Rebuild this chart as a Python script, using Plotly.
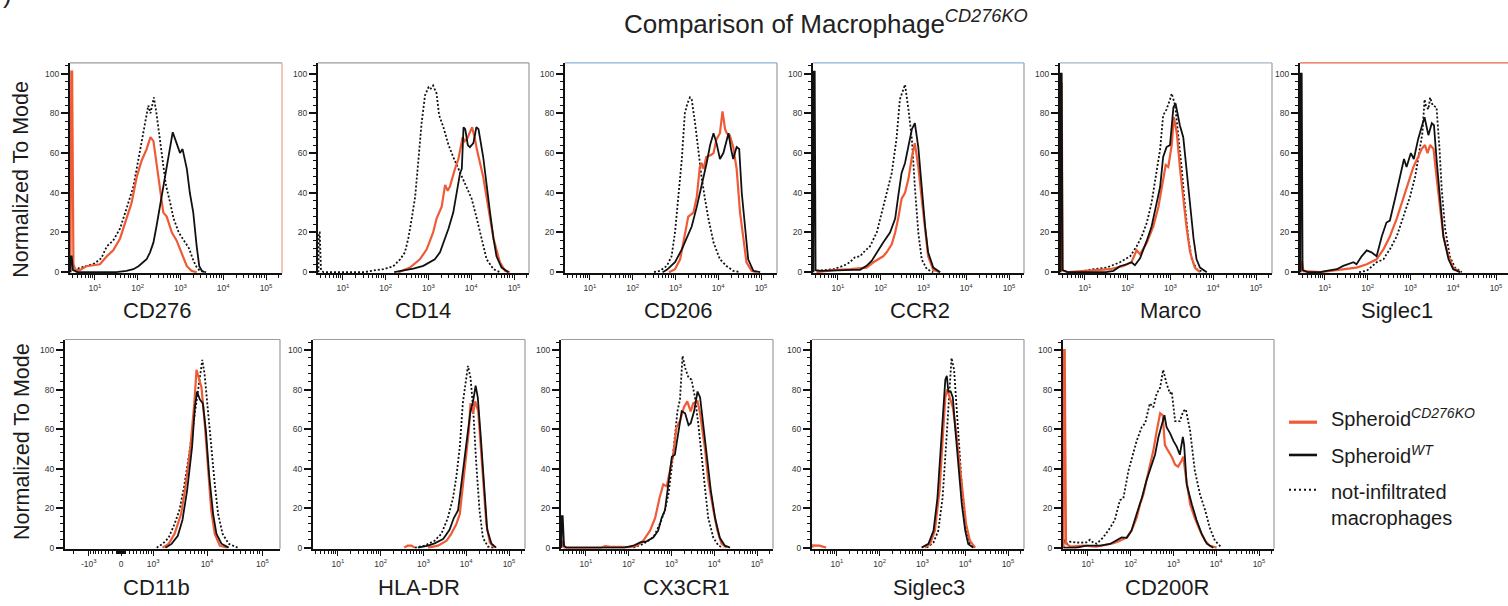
import math
import plotly.graph_objects as go

W, H = 1508, 606

# ---------------------------------------------------------------------------
# Histogram data: (decade position = log10 of fluorescence intensity, % of mode)
# ko = Spheroid CD276KO, wt = Spheroid WT, ni = not-infiltrated macrophages
# A None value breaks the line (no events in that stretch).
# ---------------------------------------------------------------------------
cd276_ni = [(0.55, 0), (0.62, 2), (0.8, 3), (1.0, 4.5), (1.15, 7), (1.28, 13), (1.43, 16), (1.59, 22),
            (1.74, 32), (1.90, 43), (2.02, 57), (2.13, 70), (2.25, 84), (2.30, 80), (2.38, 88), (2.44, 80),
            (2.50, 70), (2.58, 55), (2.66, 44), (2.76, 35), (2.84, 27), (2.96, 20), (3.07, 16), (3.20, 12),
            (3.30, 6), (3.38, 2.5), (3.46, 0.6), (3.6, 0)]
cd276_ko = [(0.43, 0), (0.45, 101), (0.47, 101), (0.50, 4), (0.55, 1), (0.65, 1), (0.8, 3), (1.0, 3.5),
            (1.12, 4), (1.28, 8), (1.43, 11), (1.59, 17), (1.74, 27), (1.86, 35), (1.98, 48), (2.09, 56),
            (2.21, 62), (2.30, 68), (2.37, 66), (2.44, 55), (2.52, 42), (2.60, 30), (2.68, 28), (2.80, 20),
            (2.91, 16), (3.03, 9), (3.15, 3), (3.26, 0.7), (3.38, 0)]
cd276_wt = [(0.43, 0), (0.44, 8), (0.46, 8), (0.49, 1), (0.6, 0), (1.5, 0), (1.74, 0.7), (1.90, 1.5),
            (2.02, 3), (2.13, 5), (2.21, 6.5), (2.29, 10), (2.37, 15), (2.44, 23), (2.52, 33), (2.60, 43),
            (2.68, 53), (2.76, 65), (2.82, 70.5), (2.91, 65), (2.99, 60), (3.05, 62), (3.15, 52), (3.22, 40),
            (3.30, 30), (3.38, 13), (3.44, 3), (3.50, 0.7), (3.57, 0)]

cd14_ni = [(0.43, 0), (0.44, 20), (0.46, 20), (0.49, 1), (0.55, 0), (1.5, 0), (1.7, 0.8), (1.95, 1.5),
           (2.18, 3), (2.34, 6.5), (2.45, 10), (2.53, 17), (2.61, 27), (2.69, 38), (2.76, 55), (2.84, 75),
           (2.92, 89), (3.0, 93), (3.04, 92), (3.11, 94), (3.19, 90), (3.25, 79), (3.35, 73), (3.47, 64),
           (3.58, 58), (3.74, 50), (3.89, 43), (4.01, 37), (4.13, 27), (4.24, 17), (4.36, 6.5), (4.52, 1.5),
           (4.67, 0)]
cd14_ko = [(2.3, 0), (2.57, 2.3), (2.80, 6.5), (2.96, 11.5), (3.11, 20), (3.19, 27), (3.31, 33), (3.39, 44),
           (3.45, 41), (3.50, 43), (3.62, 52), (3.70, 57), (3.80, 68), (3.85, 66), (3.90, 67), (3.97, 71),
           (4.02, 73), (4.08, 68), (4.13, 62), (4.28, 48), (4.40, 33), (4.52, 17), (4.67, 5), (4.79, 0.7),
           (4.9, 0)]
cd14_wt = [(2.2, 0), (2.65, 1.8), (2.88, 3.2), (3.04, 5), (3.15, 6.5), (3.27, 10), (3.39, 17), (3.47, 22),
           (3.58, 30), (3.66, 40), (3.74, 50), (3.78, 52), (3.82, 73), (3.86, 72), (3.92, 64), (3.97, 63),
           (4.05, 65), (4.12, 73), (4.17, 72), (4.28, 58), (4.36, 43), (4.44, 30), (4.52, 17), (4.59, 8),
           (4.71, 2.3), (4.87, 0)]

cd206_ni = [(2.5, 0), (2.64, 0.7), (2.80, 3.2), (2.91, 8), (2.99, 20), (3.07, 37), (3.15, 57), (3.22, 80),
            (3.28, 85), (3.34, 88), (3.38, 87), (3.46, 75), (3.54, 60), (3.61, 48), (3.69, 37), (3.77, 27),
            (3.89, 15), (4.04, 6.5), (4.20, 3), (4.35, 0.7), (4.51, 0)]
cd206_ko = [(2.85, 0), (2.99, 1.5), (3.11, 6.5), (3.22, 20), (3.30, 28), (3.42, 30), (3.50, 38), (3.57, 53),
            (3.61, 55), (3.66, 52), (3.72, 58), (3.83, 59), (3.89, 60), (3.96, 67), (4.04, 70), (4.10, 81),
            (4.16, 72), (4.20, 70), (4.27, 69), (4.35, 63), (4.43, 52), (4.51, 30), (4.59, 15), (4.66, 5),
            (4.78, 0.7), (4.90, 0)]
cd206_wt = [(2.7, 0), (2.80, 1.2), (2.99, 5), (3.15, 11.5), (3.26, 17), (3.38, 23), (3.50, 33), (3.61, 43),
            (3.73, 55), (3.81, 64), (3.89, 70), (3.96, 65), (4.04, 57), (4.12, 60), (4.24, 70), (4.30, 62),
            (4.35, 57), (4.43, 63), (4.49, 62), (4.55, 40), (4.63, 20), (4.70, 6.5), (4.82, 0.7), (4.98, 0)]

ccr2_ni = [(0.51, 0.7), (0.9, 1.5), (1.13, 3.2), (1.28, 5), (1.40, 7.5), (1.52, 8), (1.60, 10), (1.75, 13),
           (1.91, 20), (2.06, 33), (2.14, 40), (2.26, 50), (2.37, 67), (2.45, 87), (2.53, 92), (2.57, 94.5),
           (2.65, 82), (2.73, 67), (2.80, 43), (2.88, 20), (2.96, 6.5), (3.08, 1.5), (3.23, 0)]
ccr2_ko = [(0.5, 0), (0.9, 1), (1.3, 1.5), (1.67, 2.3), (1.83, 5), (1.95, 6.5), (2.06, 8), (2.14, 10),
           (2.26, 14), (2.34, 20), (2.41, 27), (2.49, 37), (2.57, 40), (2.65, 47), (2.73, 58), (2.80, 65),
           (2.88, 53), (2.96, 37), (3.04, 20), (3.11, 8), (3.23, 1.2), (3.39, 0)]
ccr2_wt = [(0.43, 0), (0.44, 101), (0.46, 101), (0.48, 1), (0.6, 0.7), (0.9, 1), (1.36, 1.2), (1.52, 1.2),
           (1.67, 3.2), (1.79, 5.7), (1.91, 10), (2.06, 15), (2.22, 20), (2.34, 27), (2.41, 38), (2.49, 50),
           (2.57, 55), (2.65, 63), (2.73, 72), (2.80, 75), (2.88, 63), (2.96, 43), (3.04, 23), (3.11, 10),
           (3.23, 2.3), (3.39, 0)]

marco_ni = [(0.81, 0), (1.20, 1.5), (1.51, 2.3), (1.82, 5), (2.06, 8), (2.21, 13), (2.33, 18), (2.45, 25),
            (2.56, 35), (2.68, 50), (2.76, 62), (2.83, 79), (2.91, 82), (2.99, 87), (3.03, 90), (3.11, 84),
            (3.18, 70), (3.26, 53), (3.34, 33), (3.42, 17), (3.50, 6.5), (3.61, 1.5), (3.77, 0)]
marco_ko = [(0.43, 0), (0.44, 95), (0.46, 95), (0.48, 1), (0.6, 0), (1.20, 0.7), (1.59, 1.5), (1.90, 3.2),
            (2.09, 5), (2.21, 11), (2.29, 9), (2.45, 15), (2.60, 23), (2.72, 33), (2.83, 47), (2.89, 54),
            (2.95, 53), (3.03, 64), (3.08, 78), (3.15, 70), (3.22, 53), (3.30, 37), (3.38, 22), (3.46, 10),
            (3.57, 2.3), (3.69, 0)]
marco_wt = [(0.43, 0), (0.44, 100), (0.46, 100), (0.48, 1), (0.6, 0), (1.5, 0), (1.67, 0.7), (1.82, 3),
            (1.98, 4), (2.09, 5), (2.17, 3.5), (2.29, 7), (2.45, 16), (2.56, 23), (2.68, 35), (2.76, 43),
            (2.83, 58), (2.91, 63), (2.99, 64), (3.07, 83), (3.12, 85), (3.18, 78), (3.22, 74), (3.30, 68),
            (3.38, 50), (3.46, 33), (3.54, 17), (3.61, 6.5), (3.69, 2.3), (3.85, 0)]

siglec1_ni = [(1.8, 0), (1.98, 0.7), (2.21, 5), (2.37, 6.5), (2.44, 9), (2.52, 11.5), (2.68, 18), (2.83, 28),
              (2.99, 38), (3.11, 48), (3.22, 62), (3.28, 70), (3.33, 87), (3.36, 84), (3.42, 82), (3.46, 88),
              (3.52, 84), (3.61, 83), (3.68, 62), (3.73, 42), (3.81, 22), (3.92, 8), (4.04, 2.3), (4.20, 0)]
siglec1_ko = [(0.43, 0), (0.44, 5), (0.47, 5), (0.5, 0.5), (0.9, 0), (1.20, 0.7), (1.51, 1.5), (1.74, 2.3),
              (1.98, 4), (2.21, 6.5), (2.37, 11.5), (2.52, 18), (2.68, 27), (2.83, 37), (2.95, 45), (3.07, 53),
              (3.18, 58), (3.26, 62), (3.34, 64), (3.40, 60), (3.46, 64), (3.54, 62), (3.61, 48), (3.69, 32),
              (3.77, 18), (3.89, 8), (4.00, 2.3), (4.16, 0)]
siglec1_wt = [(0.43, 0), (0.44, 100), (0.46, 100), (0.48, 1), (0.6, 0), (0.9, 0), (1.04, 0.7), (1.28, 1.5),
              (1.43, 3.2), (1.67, 5), (1.74, 4), (1.86, 8), (1.98, 11), (2.09, 10), (2.21, 8), (2.33, 18),
              (2.44, 25), (2.52, 26), (2.64, 37), (2.76, 48), (2.85, 57), (2.91, 53), (3.01, 60), (3.08, 57),
              (3.18, 67), (3.26, 73), (3.33, 78), (3.38, 73), (3.42, 69), (3.50, 75), (3.55, 74), (3.61, 57),
              (3.69, 38), (3.77, 18), (3.89, 6.5), (4.00, 1.5), (4.16, 0)]

cd11b_ni = [(3.07, 0), (3.185, 1.9), (3.30, 5), (3.41, 12), (3.50, 19), (3.585, 31), (3.67, 46), (3.76, 64),
            (3.84, 79), (3.88, 86), (3.915, 95), (3.955, 88), (4.01, 71), (4.075, 51), (4.14, 32), (4.20, 17),
            (4.28, 7), (4.39, 2), (4.55, 0)]
cd11b_ko = [(3.185, 0), (3.30, 1.9), (3.41, 7), (3.53, 17), (3.61, 31), (3.70, 51), (3.77, 73), (3.81, 90),
            (3.85, 86), (3.90, 81), (3.955, 64), (4.01, 42), (4.075, 19), (4.14, 7), (4.23, 1), (4.36, 0)]
cd11b_wt = [(3.24, 0), (3.355, 1.9), (3.47, 6), (3.555, 14), (3.64, 29), (3.73, 51), (3.78, 71), (3.82, 79),
            (3.87, 75), (3.925, 73), (3.98, 59), (4.04, 36), (4.11, 17), (4.17, 7), (4.26, 2), (4.39, 0)]

hladr_ni = [(2.80, 0), (3.03, 1), (3.26, 3.5), (3.42, 7), (3.57, 15), (3.69, 25), (3.77, 36), (3.85, 51),
            (3.92, 73), (3.99, 86), (4.04, 92), (4.10, 86), (4.16, 71), (4.23, 44), (4.31, 19), (4.39, 5),
            (4.51, 0.5), (4.63, 0)]
hladr_ko = [(2.55, 0), (2.63, 1), (2.72, 1), (2.8, 0), (2.9, None), (3.11, 0), (3.34, 1), (3.54, 3.5),
            (3.65, 7), (3.77, 12), (3.85, 17), (3.92, 31), (4.00, 46), (4.06, 59), (4.10, 73), (4.16, 68),
            (4.21, 74), (4.28, 69), (4.34, 51), (4.39, 34), (4.47, 12), (4.55, 2.7), (4.66, 0)]
hladr_wt = [(2.87, 0), (3.11, 1), (3.26, 2.2), (3.46, 4.4), (3.61, 9), (3.71, 15), (3.81, 19), (3.89, 32),
            (3.96, 46), (4.04, 59), (4.10, 69), (4.16, 74), (4.22, 82), (4.27, 76), (4.34, 56), (4.42, 29),
            (4.49, 9), (4.59, 2), (4.70, 0)]

cx3cr1_ni = [(2.11, 0), (2.34, 1.9), (2.58, 5.2), (2.73, 12), (2.85, 19), (2.93, 27), (3.01, 41), (3.08, 56),
             (3.14, 69), (3.20, 75), (3.26, 97), (3.32, 91), (3.40, 86), (3.47, 85), (3.55, 76), (3.63, 62),
             (3.71, 47), (3.79, 29), (3.86, 15), (3.98, 5), (4.10, 1), (4.21, 0)]
cx3cr1_ko = [(0.43, 0), (0.44, 3), (0.47, 3), (0.5, 0), (1.35, 0), (1.45, 0.8), (1.55, 0.5), (1.8, 0.5),
             (2.03, 0.3), (2.19, 1), (2.34, 3.5), (2.50, 8.6), (2.62, 15), (2.72, 25), (2.81, 32), (2.89, 31),
             (2.97, 39), (3.04, 47), (3.12, 61), (3.20, 64), (3.29, 71), (3.37, 74), (3.45, 69), (3.51, 73),
             (3.61, 74), (3.67, 68), (3.79, 49), (3.86, 34), (3.98, 19), (4.07, 9), (4.17, 2), (4.29, 0)]
cx3cr1_wt = [(0.43, 0), (0.44, 16), (0.46, 16), (0.49, 1), (0.55, 0), (1.9, 0), (2.11, 1), (2.27, 2.7),
             (2.42, 3.2), (2.58, 5.2), (2.69, 8.6), (2.77, 15), (2.85, 19), (2.93, 32), (3.01, 46), (3.08, 47),
             (3.16, 59), (3.24, 69), (3.32, 68), (3.40, 62), (3.45, 63), (3.53, 69), (3.61, 79), (3.67, 76),
             (3.75, 61), (3.84, 44), (3.92, 29), (4.02, 15), (4.13, 5), (4.25, 1), (4.37, 0)]

siglec3_ni = [(3.10, 0), (3.26, 2.7), (3.37, 8.6), (3.47, 25), (3.55, 51), (3.605, 73), (3.645, 85), (3.68, 96),
              (3.74, 90), (3.80, 71), (3.86, 51), (3.94, 25), (4.02, 8.6), (4.11, 2), (4.23, 0)]
siglec3_ko = [(0.43, 0), (0.44, 1.2), (0.6, 1), (0.75, 0), (1.0, None), (3.06, 0), (3.18, 1.9), (3.29, 8.6),
              (3.40, 29), (3.47, 54), (3.535, 76), (3.58, 80), (3.645, 76), (3.71, 71), (3.785, 59), (3.86, 44),
              (3.94, 27), (4.02, 12), (4.11, 3.5), (4.23, 0)]
siglec3_wt = [(2.98, 0), (3.14, 1.9), (3.26, 8.6), (3.35, 25), (3.43, 51), (3.49, 71), (3.535, 85), (3.57, 87),
              (3.605, 79), (3.66, 79), (3.71, 76), (3.76, 62), (3.84, 42), (3.92, 22), (4.00, 8.6), (4.07, 1.9),
              (4.19, 0)]

cd200r_ni = [(0.43, 0), (0.44, 4), (0.5, 2), (0.58, 3), (0.8, 2.5), (0.97, 2.7), (1.05, 4), (1.13, 2.5),
             (1.21, 2), (1.36, 5.2), (1.52, 10), (1.63, 14), (1.75, 24), (1.83, 25), (1.95, 39), (2.06, 47),
             (2.14, 54), (2.26, 61), (2.34, 63), (2.45, 73), (2.53, 71), (2.61, 78), (2.69, 81), (2.76, 90),
             (2.84, 83), (2.92, 78), (2.96, 79), (3.04, 64), (3.15, 64), (3.23, 69), (3.29, 70), (3.39, 59),
             (3.50, 39), (3.62, 27), (3.74, 19), (3.85, 10), (3.97, 3.5), (4.13, 0)]
cd200r_ko = [(0.43, 0), (0.44, 100), (0.46, 100), (0.49, 2), (0.6, 0.5), (0.9, 1), (1.2, 0.5), (1.44, 1.5),
             (1.60, 2.2), (1.75, 3.5), (1.91, 5.2), (2.02, 8.6), (2.14, 15), (2.22, 22), (2.30, 27), (2.37, 34),
             (2.45, 41), (2.53, 49), (2.61, 59), (2.69, 68), (2.75, 67), (2.80, 52), (2.85, 50), (2.88, 49),
             (2.96, 46), (3.04, 42), (3.11, 41), (3.19, 44), (3.23, 46), (3.29, 36), (3.39, 22), (3.50, 15),
             (3.62, 8.6), (3.74, 3.5), (3.85, 1), (4.01, 0)]
cd200r_wt = [(0.43, 0), (0.74, 0), (0.97, 1), (1.3, 1), (1.52, 1.9), (1.67, 3.5), (1.79, 5.2), (1.91, 5),
             (2.02, 8.6), (2.14, 17), (2.26, 25), (2.37, 34), (2.49, 42), (2.57, 47), (2.65, 56), (2.73, 63),
             (2.79, 67), (2.84, 61), (2.92, 58), (3.00, 54), (3.08, 51), (3.15, 47), (3.22, 56), (3.25, 52),
             (3.31, 32), (3.43, 22), (3.54, 14), (3.66, 7), (3.78, 2), (3.93, 0)]

marker_names = ["CD276", "CD14", "CD206", "CCR2", "Marco", "Siglec1",
                "CD11b", "HLA-DR", "CX3CR1", "Siglec3", "CD200R"]
ko_curves = [cd276_ko, cd14_ko, cd206_ko, ccr2_ko, marco_ko, siglec1_ko,
             cd11b_ko, hladr_ko, cx3cr1_ko, siglec3_ko, cd200r_ko]
wt_curves = [cd276_wt, cd14_wt, cd206_wt, ccr2_wt, marco_wt, siglec1_wt,
             cd11b_wt, hladr_wt, cx3cr1_wt, siglec3_wt, cd200r_wt]
ni_curves = [cd276_ni, cd14_ni, cd206_ni, ccr2_ni, marco_ni, siglec1_ni,
             cd11b_ni, hladr_ni, cx3cr1_ni, siglec3_ni, cd200r_ni]

y_ticks = [0, 20, 40, 60, 80, 100]
log_tick_vals = [10, 100, 1000, 10000, 100000]
log_tick_text = ["10<sup>1</sup>", "10<sup>2</sup>", "10<sup>3</sup>", "10<sup>4</sup>", "10<sup>5</sup>"]
biex_tick_vals = [-1000, 0, 1000, 10000, 100000]
biex_tick_text = ["-10<sup>3</sup>", "0", "10<sup>3</sup>", "10<sup>4</sup>", "10<sup>5</sup>"]

legend_labels = ["Spheroid<sup><i>CD276KO</i></sup>", "Spheroid<sup><i>WT</i></sup>",
                 "not-infiltrated<br>macrophages"]

# ---------------------------------------------------------------------------
# Layout geometry (pixels) and styles
# ---------------------------------------------------------------------------
panel_left = [70, 318, 565, 813, 1060, 1300, 65, 313, 561, 812, 1063]
panel_right = [282, 529, 777, 1024, 1272, 1508, 280, 525, 773, 1024, 1274]
panel_row = [0, 0, 0, 0, 0, 0, 1, 1, 1, 1, 1]
row_top = [63.3, 341.8]
row_bottom = [275.0, 552.3]
label_x = [157, 423, 678, 920, 1170, 1397, 156, 419, 686, 929, 1167]
label_y = [313, 591]
ytitle_y = [180.5, 444.5]

DEC_PX = 42.8          # pixels per decade on the log axes
DEC_START = 0.42       # log10 value at the left edge of each log axis
BIEX_C = 564.0         # width of the linear region of the biexponential axis
BIEX_PX = 55.5
BIEX_ZERO_PX = 121
Y_MIN = -0.5

KO_COLOR = "#EF5B36"
WT_COLOR = "#111111"
FONT = "Arial, Liberation Sans, sans-serif"
TEXT_COLOR = "#1b1b1b"
FRAME_COLOR = "#9c9c9c"
frame_top_color = [FRAME_COLOR, FRAME_COLOR, "#8fb3dc", "#8fb3dc", "#a3b4c8", "#e8664a",
                   FRAME_COLOR, FRAME_COLOR, FRAME_COLOR, FRAME_COLOR, FRAME_COLOR]
frame_right_color = ["#eba08f", FRAME_COLOR, FRAME_COLOR, FRAME_COLOR, FRAME_COLOR, None,
                     FRAME_COLOR, FRAME_COLOR, FRAME_COLOR, FRAME_COLOR, FRAME_COLOR]


def biex(v):
    return math.asinh(v / BIEX_C) / math.log(10)


def px_x(p):
    return p / W


def px_y(p):
    return 1 - p / H


fig = go.Figure()
annotations = []
shapes = []

for i, name in enumerate(marker_names):
    n = i + 1
    sfx = "" if n == 1 else str(n)
    xref, yref = "x" + sfx, "y" + sfx
    is_biex = name == "CD11b"
    row = panel_row[i]
    width_px = panel_right[i] - panel_left[i]

    def xs(curve):
        vals = [10 ** d for d, _ in curve]
        return [biex(v) for v in vals] if is_biex else vals

    for curve, color, dash, lw in ((ni_curves[i], "#111111", "2px,2px", 1.8),
                                   (ko_curves[i], KO_COLOR, "solid", 2.2),
                                   (wt_curves[i], WT_COLOR, "solid", 1.8)):
        fig.add_trace(go.Scatter(
            x=xs(curve), y=[p for _, p in curve], mode="lines", connectgaps=False,
            line=dict(color=color, width=lw, dash=dash),
            xaxis=xref, yaxis=yref, showlegend=False, hoverinfo="skip"))

    if is_biex:
        lo = (panel_left[i] - BIEX_ZERO_PX) / BIEX_PX
        hi = (panel_right[i] - BIEX_ZERO_PX) / BIEX_PX
        minor_vals = []
        for base in (10, 100, 1000, 10000):
            for m in range(2, 10) if base >= 1000 else range(1, 10):
                for sgn in (1, -1):
                    t = biex(sgn * m * base)
                    if lo < t < hi:
                        minor_vals.append(t)
        xaxis = dict(type="linear", range=[lo, hi],
                     tickmode="array", tickvals=[biex(v) for v in biex_tick_vals], ticktext=biex_tick_text,
                     minor=dict(ticks="outside", ticklen=3, tickwidth=1, tickcolor="#111",
                                tickmode="array", tickvals=minor_vals))
    else:
        lo = DEC_START
        hi = DEC_START + width_px / DEC_PX
        minor_vals = [m * 10 ** k for k in range(0, 6) for m in range(2, 10)
                      if lo < math.log10(m * 10 ** k) < hi]
        xaxis = dict(type="log", range=[lo, hi],
                     tickmode="array", tickvals=log_tick_vals, ticktext=log_tick_text,
                     minor=dict(ticks="outside", ticklen=3, tickwidth=1, tickcolor="#111",
                                tickmode="array", tickvals=minor_vals))
    xaxis.update(domain=[px_x(panel_left[i]), px_x(panel_right[i])], anchor=yref,
                 showline=True, linecolor="#111", linewidth=2, ticks="outside", ticklen=5,
                 tickwidth=1.4, tickcolor="#111", showgrid=False, zeroline=False,
                 tickfont=dict(family=FONT, size=8.5, color="#333"), ticklabelstandoff=1)
    yaxis = dict(domain=[px_y(row_bottom[row]), px_y(row_top[row])], anchor=xref,
                 range=[Y_MIN, 105.4 if row == 0 else 105.3],
                 tickmode="array", tickvals=y_ticks, showline=True, linecolor="#111", linewidth=2,
                 ticks="outside", ticklen=7, tickwidth=1.6, tickcolor="#111",
                 minor=dict(ticks="outside", ticklen=3, tickwidth=1, tickcolor="#111", dtick=4, tick0=0),
                 showgrid=False, zeroline=False, tickfont=dict(family=FONT, size=8.5, color="#333"))
    fig.update_layout(**{"xaxis" + sfx: xaxis, "yaxis" + sfx: yaxis})

    # thin frame lines closing each panel on top and right
    shapes.append(dict(type="line", xref=xref + " domain", yref=yref + " domain",
                       x0=0, x1=1, y0=1, y1=1, line=dict(color=frame_top_color[i], width=1.1)))
    if frame_right_color[i]:
        shapes.append(dict(type="line", xref=xref + " domain", yref=yref + " domain",
                           x0=1, x1=1, y0=0, y1=1, line=dict(color=frame_right_color[i], width=1.2)))

    annotations.append(dict(text=name, x=px_x(label_x[i]), y=px_y(label_y[row]), xref="paper", yref="paper",
                            xanchor="center", yanchor="middle", showarrow=False,
                            font=dict(family=FONT, size=22, color=TEXT_COLOR)))

for row in (0, 1):
    annotations.append(dict(text="Normalized To Mode", textangle=-90, x=px_x(21.5), y=px_y(ytitle_y[row]),
                            xref="paper", yref="paper", xanchor="center", yanchor="middle",
                            showarrow=False, font=dict(family=FONT, size=21.5, color=TEXT_COLOR)))

annotations.append(dict(text="Comparison of Macrophage<sup><i>CD276KO</i></sup>",
                        x=px_x(622), y=px_y(23), xref="paper", yref="paper",
                        xanchor="left", yanchor="middle", showarrow=False,
                        font=dict(family=FONT, size=26, color="#222")))
annotations.append(dict(text=")", x=px_x(14), y=px_y(11), xref="paper", yref="paper",
                        xanchor="right", yanchor="bottom", showarrow=False,
                        font=dict(family=FONT, size=26, color="#222")))

# legend drawn as line samples with labels
legend_y = [425, 458, 493]
legend_text_y = [420, 458, 508.5]
legend_styles = [dict(color=KO_COLOR, width=3.2), dict(color=WT_COLOR, width=2.6),
                 dict(color="#111", width=2, dash="2px,3px")]
for k in range(3):
    shapes.append(dict(type="line", xref="paper", yref="paper", x0=px_x(1289), x1=px_x(1317),
                       y0=px_y(legend_y[k]), y1=px_y(legend_y[k]), line=legend_styles[k]))
    annotations.append(dict(text=legend_labels[k], x=px_x(1329), y=px_y(legend_text_y[k]),
                            xref="paper", yref="paper", xanchor="left", yanchor="middle",
                            align="left", showarrow=False,
                            font=dict(family=FONT, size=20, color=TEXT_COLOR)))

fig.update_layout(width=W, height=H, margin=dict(l=0, r=0, t=0, b=0),
                  paper_bgcolor="white", plot_bgcolor="white",
                  shapes=shapes, annotations=annotations, showlegend=False)

fig.write_html("out.html")
